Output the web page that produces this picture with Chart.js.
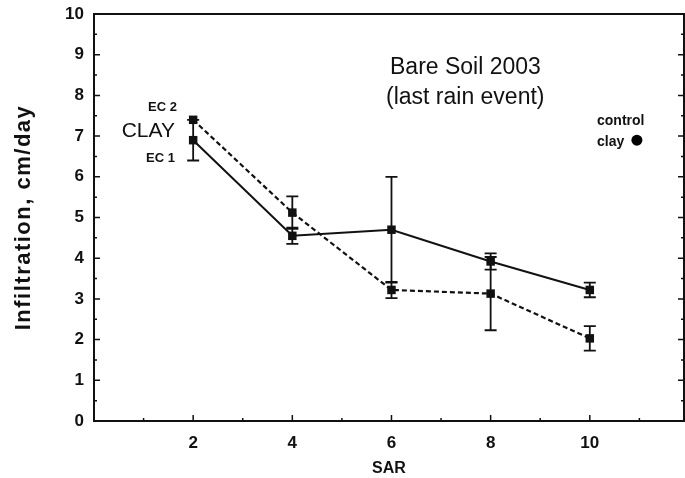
<!DOCTYPE html>
<html>
<head>
<meta charset="utf-8">
<script src="https://cdn.jsdelivr.net/npm/chart.js@4"></script>
<style>
  html, body { margin: 0; padding: 0; background: #fff; overflow: hidden; }
</style>
</head>
<body>
<canvas id="chart" width="690" height="478"></canvas>
<script>
'use strict';

// SAR levels and infiltration (cm/day) for the two EC treatments
var sar = [2, 4, 6, 8, 10];
var ec1 = [6.9, 4.55, 4.7, 3.92, 3.22];
var ec1Err = [0.5, 0.2, 1.3, 0.2, 0.18];
var ec2 = [7.4, 5.12, 3.22, 3.13, 2.03];
var ec2Err = [0, 0.4, 0.2, 0.9, 0.3];

// control clay reference point
var controlSar = [10.95];
var controlVal = [6.9];

var yTicks = [0, 1, 2, 3, 4, 5, 6, 7, 8, 9, 10];
var xTicks = [2, 4, 6, 8, 10];

function toPoints(xs, ys) {
  return xs.map(function(x, i) { return { x: x, y: ys[i] }; });
}

var FONT = '"Liberation Sans", Arial, sans-serif';

// error bars, frame, inward ticks and the text labels
var decorations = {
  id: 'decorations',
  beforeDatasetsDraw: function(chart) {
    var ctx = chart.ctx;
    var xs = chart.scales.x, ys = chart.scales.y;
    var sets = [ec1Err, ec2Err];
    ctx.save();
    ctx.strokeStyle = '#111';
    ctx.lineWidth = 1.8;
    sets.forEach(function(err, d) {
      var vals = d === 0 ? ec1 : ec2;
      sar.forEach(function(s, i) {
        if (!err[i]) return;
        var px = xs.getPixelForValue(s);
        var top = ys.getPixelForValue(vals[i] + err[i]);
        var bot = ys.getPixelForValue(vals[i] - err[i]);
        ctx.beginPath();
        ctx.moveTo(px, top); ctx.lineTo(px, bot);
        ctx.moveTo(px - 6, top); ctx.lineTo(px + 6, top);
        ctx.moveTo(px - 6, bot); ctx.lineTo(px + 6, bot);
        ctx.stroke();
      });
    });
    ctx.restore();
  },
  afterDraw: function(chart) {
    var ctx = chart.ctx;
    var a = chart.chartArea;
    var xs = chart.scales.x, ys = chart.scales.y;
    ctx.save();
    ctx.strokeStyle = '#111';
    ctx.lineWidth = 2;
    ctx.strokeRect(a.left, a.top, a.right - a.left, a.bottom - a.top);

    ctx.lineWidth = 1.5;
    ctx.beginPath();
    for (var v = 0; v <= 10; v += 0.5) {
      var py = ys.getPixelForValue(v);
      var len = (v % 1 === 0) ? 6 : 3;
      ctx.moveTo(a.left, py); ctx.lineTo(a.left + len, py);
      ctx.moveTo(a.right, py); ctx.lineTo(a.right - len, py);
    }
    for (var u = 1; u < 12; u++) {
      var px = xs.getPixelForValue(u);
      var l = (u % 2 === 0) ? 6 : 3;
      ctx.moveTo(px, a.bottom); ctx.lineTo(px, a.bottom - l);
    }
    ctx.stroke();

    ctx.fillStyle = '#111';
    ctx.textBaseline = 'middle';

    // series labels next to the first points
    ctx.textAlign = 'right';
    ctx.font = 'bold 13px ' + FONT;
    ctx.fillText('EC 2', 177, 107);
    ctx.fillText('EC 1', 175, 158);
    ctx.font = '21px ' + FONT;
    ctx.fillText('CLAY', 175, 131);

    // panel title
    ctx.textAlign = 'left';
    ctx.font = '23px ' + FONT;
    ctx.fillText('Bare Soil 2003', 390, 68);
    ctx.fillText('(last rain event)', 386, 98);

    // control point label
    ctx.font = 'bold 14px ' + FONT;
    ctx.fillText('control', 597, 121);
    ctx.fillText('clay', 597, 142);

    // y axis title
    ctx.translate(24, (a.top + a.bottom) / 2);
    ctx.rotate(-Math.PI / 2);
    ctx.textAlign = 'center';
    ctx.font = 'bold 22px ' + FONT;
    ctx.letterSpacing = '1.5px';
    ctx.fillText('Infiltration, cm/day', 0, 0);
    ctx.restore();
  }
};

var chart = new Chart(document.getElementById('chart').getContext('2d'), {
  type: 'scatter',
  data: {
    datasets: [
      {
        label: 'EC 1',
        data: toPoints(sar, ec1),
        showLine: true,
        borderColor: '#111',
        backgroundColor: '#111',
        borderWidth: 2,
        pointStyle: 'rect',
        pointRadius: 6,
        pointBorderWidth: 0
      },
      {
        label: 'EC 2',
        data: toPoints(sar, ec2),
        showLine: true,
        borderColor: '#111',
        backgroundColor: '#111',
        borderWidth: 2.2,
        borderDash: [5, 3],
        pointStyle: 'rect',
        pointRadius: 6,
        pointBorderWidth: 0
      },
      {
        label: 'control clay',
        data: toPoints(controlSar, controlVal),
        backgroundColor: '#000',
        borderColor: '#000',
        pointStyle: 'circle',
        pointRadius: 5.5,
        pointBorderWidth: 0
      }
    ]
  },
  options: {
    responsive: false,
    animation: false,
    layout: { padding: { top: 14, right: 0, left: 0, bottom: 0 } },
    plugins: {
      legend: { display: false },
      tooltip: { enabled: false }
    },
    scales: {
      x: {
        type: 'linear',
        min: 0,
        max: 11.9,
        afterFit: function(scale) {
          scale.height = 57;
          scale.paddingLeft = 0;
          scale.paddingRight = 0;
        },
        afterBuildTicks: function(scale) {
          scale.ticks = xTicks.map(function(v) { return { value: v }; });
        },
        grid: { display: false, drawTicks: false },
        border: { display: false },
        ticks: {
          padding: 12,
          color: '#111',
          font: { family: FONT, size: 17, weight: 'bold' }
        },
        title: {
          display: true,
          text: 'SAR',
          color: '#111',
          padding: 0,
          font: { family: FONT, size: 16, weight: 'bold' }
        }
      },
      y: {
        min: 0,
        max: 10,
        afterFit: function(scale) {
          scale.width = 94;
          scale.paddingTop = 0;
          scale.paddingBottom = 0;
        },
        afterBuildTicks: function(scale) {
          scale.ticks = yTicks.map(function(v) { return { value: v }; });
        },
        grid: { display: false, drawTicks: false },
        border: { display: false },
        ticks: {
          padding: 10,
          color: '#111',
          font: { family: FONT, size: 17, weight: 'bold' }
        }
      }
    }
  },
  plugins: [decorations]
});
</script>
</body>
</html>
